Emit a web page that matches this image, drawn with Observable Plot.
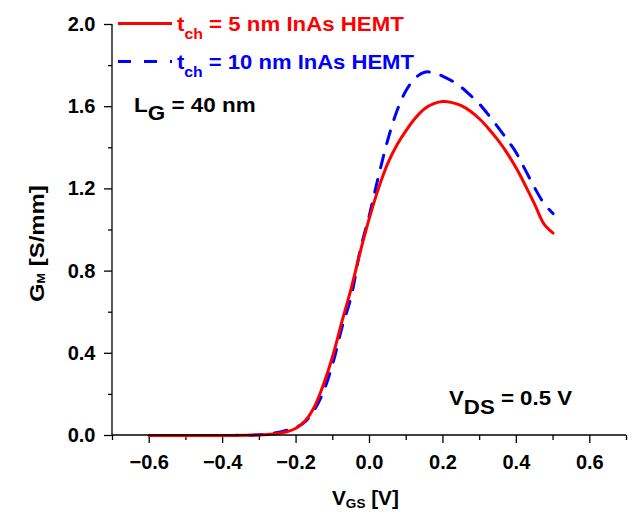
<!DOCTYPE html>
<html>
<head>
<meta charset="utf-8">
<script src="https://cdn.jsdelivr.net/npm/d3@7"></script>
<script src="https://cdn.jsdelivr.net/npm/@observablehq/plot@0.6"></script>
<style>
  html, body { margin: 0; padding: 0; background: #fff; }
</style>
</head>
<body>
<div id="chart"></div>
<script>
// Gate voltage sweep (V) shared by both devices
const vgs = [-0.60, -0.50, -0.40, -0.30, -0.25, -0.225, -0.20, -0.175, -0.15, -0.125,
             -0.10, -0.075, -0.05, -0.025, 0.00, 0.025, 0.05, 0.075, 0.10, 0.125,
             0.15, 0.175, 0.20, 0.225, 0.25, 0.275, 0.30, 0.325, 0.35, 0.375,
             0.40, 0.425, 0.45, 0.475, 0.50];

// Transconductance G_M (S/mm), t_ch = 5 nm InAs HEMT
const gm5nm = [0.000, 0.000, 0.000, 0.003, 0.010, 0.018, 0.035, 0.072, 0.140, 0.250,
               0.388, 0.555, 0.715, 0.895, 1.060, 1.205, 1.325, 1.415, 1.485, 1.545,
               1.590, 1.615, 1.625, 1.620, 1.605, 1.578, 1.540, 1.492, 1.437, 1.374,
               1.300, 1.215, 1.125, 1.030, 0.985];

// Transconductance G_M (S/mm), t_ch = 10 nm InAs HEMT
const gm10nm = [0.000, 0.000, 0.000, 0.004, 0.015, 0.026, 0.040, 0.068, 0.125, 0.215,
                0.350, 0.525, 0.675, 0.905, 1.075, 1.265, 1.440, 1.580, 1.680, 1.740,
                1.768, 1.765, 1.748, 1.725, 1.695, 1.655, 1.612, 1.558, 1.500, 1.440,
                1.375, 1.290, 1.205, 1.130, 1.080];

// Axis ticks
const xMajor = [-0.6, -0.4, -0.2, 0.0, 0.2, 0.4, 0.6];
const xMinor = [-0.7, -0.5, -0.3, -0.1, 0.1, 0.3, 0.5, 0.7];
const yMajor = [0.0, 0.4, 0.8, 1.2, 1.6, 2.0];
const yMinor = [0.2, 0.6, 1.0, 1.4, 1.8];
const xDomain = [-0.7, 0.7];
const yDomain = [0, 2.0];

const RED = "#ff0000";
const BLUE = "#0000ff";
const FONT = "'Liberation Sans', Arial, Helvetica, sans-serif";

const rows5 = vgs.map((v, i) => ({v, g: gm5nm[i]}));
const rows10 = vgs.map((v, i) => ({v, g: gm10nm[i]}));
const fmt = d3.format(".1f");

const plot = Plot.plot({
  width: 632,
  height: 516,
  marginLeft: 112,
  marginRight: 6,
  marginTop: 24,
  marginBottom: 81,
  x: {domain: xDomain},
  y: {domain: yDomain},
  style: {
    fontFamily: FONT,
    fontWeight: "bold",
    fontSize: "20px",
    color: "#000",
    background: "#fff",
    overflow: "visible"
  },
  marks: [
    Plot.axisX({ticks: xMajor, tickSize: 8, tickPadding: 11, tickFormat: fmt, label: null, strokeWidth: 1.3}),
    Plot.axisX({ticks: xMinor, tickSize: 5, tickFormat: () => "", label: null, strokeWidth: 1.3}),
    Plot.axisY({ticks: yMajor, tickSize: 8, tickPadding: 9, tickFormat: fmt, label: null, strokeWidth: 1.3}),
    Plot.axisY({ticks: yMinor, tickSize: 4, tickFormat: () => "", label: null, strokeWidth: 1.3}),
    Plot.line(rows10, {x: "v", y: "g", stroke: BLUE, strokeWidth: 3, strokeDasharray: "13,12", curve: "catmull-rom"}),
    Plot.line(rows5, {x: "v", y: "g", stroke: RED, strokeWidth: 3, curve: "catmull-rom"})
  ]
});

document.getElementById("chart").append(plot);

const svg = d3.select(plot);
const sx = plot.scale("x");
const sy = plot.scale("y");

// Axis lines along the left and bottom edges of the frame
const x0 = sx.apply(xDomain[0]), x1 = sx.apply(xDomain[1]);
const y0 = sy.apply(yDomain[0]), y1 = sy.apply(yDomain[1]);
svg.append("line").attr("x1", x0).attr("x2", x1).attr("y1", y0).attr("y2", y0)
  .attr("stroke", "#000").attr("stroke-width", 1.3);
svg.append("line").attr("x1", x0).attr("x2", x0).attr("y1", y1).attr("y2", y0)
  .attr("stroke", "#000").attr("stroke-width", 1.3);

// Text with sub-scripted runs; parts = [[text, size, baselineShift], ...]
function label(transform, parts, color, stretch) {
  const t = svg.append("text")
    .attr("transform", `${transform} scale(${stretch},1)`)
    .attr("text-anchor", "start")
    .attr("fill", color)
    .attr("font-family", FONT)
    .attr("font-weight", "bold");
  let shift = 0;
  for (const [str, size, dy] of parts) {
    t.append("tspan")
      .attr("font-size", size)
      .attr("dy", dy - shift)
      .text(str);
    shift = dy;
  }
  return t;
}

// Legend
svg.append("line").attr("x1", 118).attr("x2", 172).attr("y1", 23.5).attr("y2", 23.5)
  .attr("stroke", RED).attr("stroke-width", 3);
svg.append("line").attr("x1", 118).attr("x2", 172).attr("y1", 61.5).attr("y2", 61.5)
  .attr("stroke", BLUE).attr("stroke-width", 3).attr("stroke-dasharray", "13,13");
label("translate(177,31)", [["t", 21, 0], ["ch", 15, 8], [" = 5 nm InAs HEMT", 21, 0]], RED, 1.06);
label("translate(177,69)", [["t", 21, 0], ["ch", 15, 8], [" = 10 nm InAs HEMT", 21, 0]], BLUE, 1.05);

// Annotations
label("translate(134,111.5)", [["L", 21, 0], ["G", 21, 8.5], [" = 40 nm", 21, 0]], "#000", 1.07);
label("translate(449,405)", [["V", 21, 0], ["DS", 21, 8.5], [" = 0.5 V", 21, 0]], "#000", 1.06);

// Axis titles
label("translate(332,505)", [["V", 20, 0], ["GS", 13, 3], [" [V]", 20, 0]], "#000", 1.04);
label("translate(43.5,302) rotate(-90)", [["G", 21, 0], ["M", 11, 1], [" [S/mm]", 21, 0]], "#000", 1.14);
</script>
</body>
</html>
